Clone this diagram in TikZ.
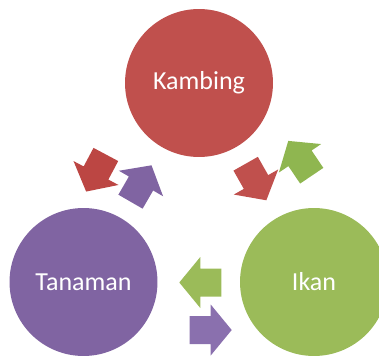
\documentclass[tikz,border=0pt]{standalone}
\usepackage{fontspec}
\setmainfont{Carlito}
\usepackage{tikz}
\usetikzlibrary{positioning}

\definecolor{kred}{HTML}{C0504D}
\definecolor{kredarrow}{HTML}{BC4643}
\definecolor{kpurple}{HTML}{8064A2}
\definecolor{kpurplearrow}{HTML}{8A70AE}
\definecolor{kgreen}{HTML}{9BBB59}
\definecolor{kgreenarrow}{HTML}{8FB650}

\tikzset{
  bubble/.style={circle, minimum size=2.96cm, inner sep=0pt, text=white,
    font=\fontsize{14.8}{17}\selectfont},
  pics/blockarrow/.style={code={
    \fill[#1] (-21,-14) -- (0,-14) -- (0,-25.5) -- (21,0) -- (0,25.5) -- (0,14) -- (-21,14) -- cycle;
  }}
}

\begin{document}
\begin{tikzpicture}[x=0.02cm, y=-0.02cm]
\useasboundingbox (0,0) rectangle (379,356);

\begin{scope}
\clip (0,0) rectangle (379,356);
\node[bubble, fill=kred] (kambing) at (199,83) {Kambing};
\node[bubble, fill=kpurple] (tanaman) at (83.5,282) {Tanaman};
\node[bubble, fill=kgreen] (ikan) at (314,282) {Ikan};

\pic[rotate=242] at (96,173) {blockarrow=kredarrow};
\pic[rotate=60] at (141,183.5) {blockarrow=kpurple};

\pic[rotate=-60.5] at (256,182) {blockarrow=kred};
\pic[rotate=124] at (300,158.3) {blockarrow=kgreenarrow};

\pic[rotate=180] at (200.3,282.5) {blockarrow=kgreen};
\pic at (210.7,330) {blockarrow=kpurplearrow};
\end{scope}

\end{tikzpicture}
\end{document}
